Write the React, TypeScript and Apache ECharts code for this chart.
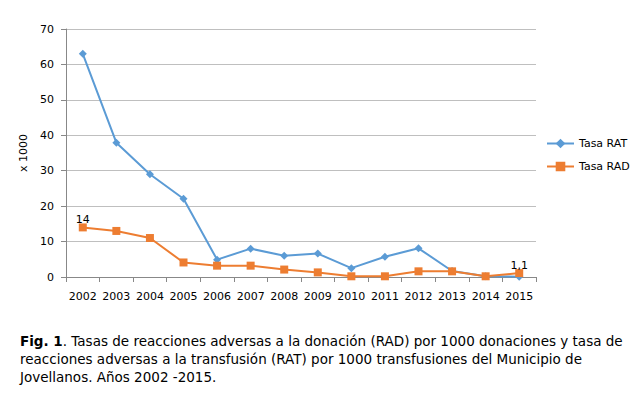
import React, { useEffect, useRef } from "react";
import * as echarts from "echarts";

const years = ["2002", "2003", "2004", "2005", "2006", "2007", "2008", "2009", "2010", "2011", "2012", "2013", "2014", "2015"];
const tasaRAT = [63, 37.9, 29, 22.1, 4.9, 8, 6, 6.6, 2.5, 5.7, 8.1, 1.7, 0.2, 0.1];
const tasaRAD = [14, 13, 11, 4.1, 3.2, 3.2, 2.1, 1.3, 0.2, 0.2, 1.6, 1.6, 0.2, 1.1];
const labeledRAD = [0, 13];

const FONT = "DejaVu Sans, Verdana, sans-serif";

export default function App() {
  const ref = useRef<HTMLDivElement>(null);
  useEffect(() => {
    if (!ref.current) return;
    const chart = echarts.init(ref.current, undefined, { renderer: "svg" });
    chart.setOption({
      animation: false,
      backgroundColor: "#ffffff",
      textStyle: { fontFamily: FONT },
      grid: { left: 66, right: 98, top: 29, bottom: 116 },
      legend: {
        orient: "vertical",
        left: 541,
        top: 133,
        itemWidth: 27,
        itemHeight: 12,
        itemGap: 12,
        textStyle: { fontFamily: FONT, fontSize: 11, color: "#000" },
        data: ["Tasa RAT", "Tasa RAD"],
      },
      xAxis: {
        type: "category",
        data: years,
        boundaryGap: true,
        axisLine: { lineStyle: { color: "#888", width: 1 } },
        axisTick: { show: true, length: 5, lineStyle: { color: "#888" } },
        axisLabel: { color: "#000", fontSize: 11, fontFamily: FONT, margin: 14, interval: 0 },
      },
      yAxis: {
        type: "value",
        min: 0,
        max: 70,
        interval: 10,
        name: "x 1000",
        nameLocation: "middle",
        nameGap: 32,
        nameRotate: 90,
        nameTextStyle: { color: "#000", fontSize: 11, fontFamily: FONT },
        axisLine: { show: true, lineStyle: { color: "#888" } },
        axisTick: { show: true, length: 5, inside: false, lineStyle: { color: "#888" } },
        axisLabel: { color: "#000", fontSize: 11, fontFamily: FONT, margin: 12 },
        splitLine: { lineStyle: { color: "#bfbfbf", width: 1 } },
      },
      series: [
        {
          name: "Tasa RAT",
          type: "line",
          data: tasaRAT,
          symbol: "diamond",
          symbolSize: 8,
          color: "#5b9bd5",
          lineStyle: { width: 2, color: "#5b9bd5" },
          itemStyle: { color: "#5b9bd5" },
        },
        {
          name: "Tasa RAD",
          type: "line",
          data: tasaRAD.map((v, i) =>
            labeledRAD.includes(i)
              ? {
                  value: v,
                  label: {
                    show: true,
                    position: "top",
                    distance: -2,
                    color: "#000",
                    fontSize: 11,
                    fontFamily: FONT,
                    formatter: (p: any) => String(p.value).replace(".", ","),
                  },
                }
              : v
          ),
          symbol: "rect",
          symbolSize: 8,
          color: "#ed7d31",
          lineStyle: { width: 2, color: "#ed7d31" },
          itemStyle: { color: "#ed7d31" },
        },
      ],
      graphic: [
        {
          type: "text",
          left: 20,
          top: 332,
          style: {
            text: "{b|Fig. 1}. Tasas de reacciones adversas a la donación (RAD) por 1000 donaciones y tasa de\nreacciones adversas a la transfusión (RAT) por 1000 transfusiones del Municipio de\nJovellanos. Años 2002 -2015.",
            font: `13.5px ${FONT}`,
            fill: "#000",
            lineHeight: 18,
            rich: {
              b: { fontWeight: "bold", fontSize: 13.5, fontFamily: FONT, fill: "#000", lineHeight: 18 },
            },
          },
        },
      ],
    });
    return () => chart.dispose();
  }, []);
  return (
    <div
      ref={ref}
      style={{ position: "absolute", left: 0, top: 0, width: 634, height: 393 }}
    />
  );
}
